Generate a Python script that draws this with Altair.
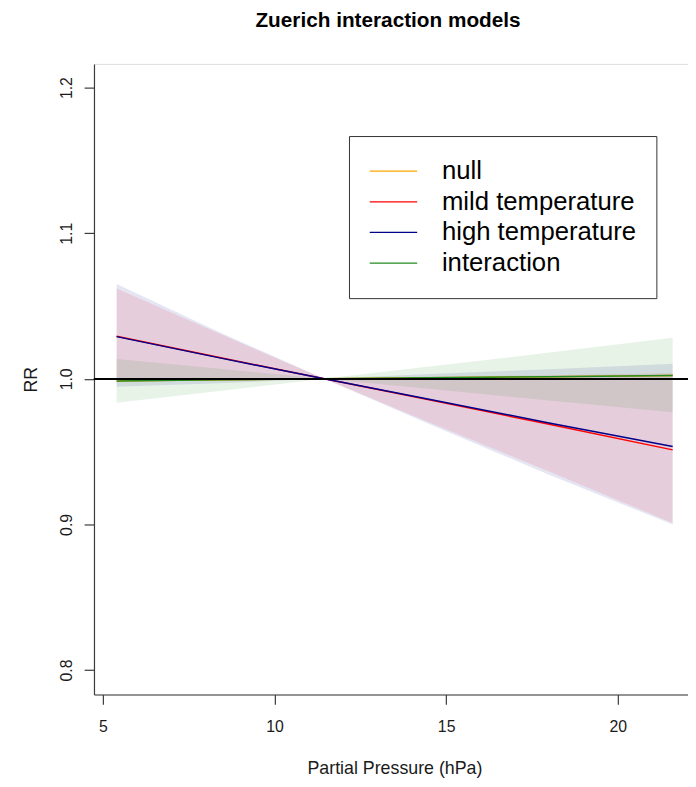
import altair as alt
import pandas as pd

# ---------------- data ----------------
models = ["null", "mild temperature", "high temperature", "interaction"]
colors = ["#FFA500", "#FF0000", "#00008B", "#228B22"]
pressure = [5.4, 8.4, 11.45, 14.5, 18.0, 21.6]

null_fit = [0.9985, 0.9993, 1.0000, 1.0007, 1.0015, 1.0023]
null_lo = [0.9980, 0.9990, 1.0000, 1.0004, 1.0010, 1.0016]
null_hi = [0.9990, 0.9996, 1.0000, 1.0010, 1.0020, 1.0030]

mild_fit = [1.0293, 1.0146, 1.0000, 0.9856, 0.9688, 0.9512]
mild_lo = [0.9985, 0.9986, 1.0000, 0.9701, 0.9363, 0.9010]
mild_hi = [1.0621, 1.0309, 1.0000, 1.0014, 1.0024, 1.0039]

high_fit = [1.0290, 1.0144, 1.0000, 0.9860, 0.9697, 0.9535]
high_lo = [0.9945, 0.9969, 1.0000, 0.9690, 0.9342, 0.8999]
high_hi = [1.0651, 1.0320, 1.0000, 1.0033, 1.0066, 1.0104]

inter_fit = [0.9985, 0.9993, 1.0000, 1.0007, 1.0015, 1.0023]
inter_lo = [0.9836, 0.9917, 1.0000, 0.9931, 0.9852, 0.9770]
inter_hi = [1.0136, 1.0069, 1.0000, 1.0084, 1.0180, 1.0282]

x_ticks = [5, 10, 15, 20]
y_ticks = [0.8, 0.9, 1.0, 1.1, 1.2]

fits = [null_fit, mild_fit, high_fit, inter_fit]
los = [null_lo, mild_lo, high_lo, inter_lo]
his = [null_hi, mild_hi, high_hi, inter_hi]

rows = []
for m, f_, l_, h_ in zip(models, fits, los, his):
    for x, f, l, h in zip(pressure, f_, l_, h_):
        rows.append({"model": m, "band": m, "x": x, "fit": f, "lo": l, "hi": h})
df = pd.DataFrame(rows)

FONT = "Liberation Sans"
AX = "#3a3a3a"

x_scale = alt.Scale(domain=[4.741, 22.046], nice=False, zero=False)
y_scale = alt.Scale(domain=[0.7832, 1.2163], nice=False, zero=False)

x_axis = alt.Axis(
    values=x_ticks, format="d", title="Partial Pressure (hPa)", grid=False,
    domainColor=AX, domainWidth=1.2, tickColor=AX, tickWidth=1.2, tickSize=10,
    labelFont=FONT, labelFontSize=16, labelColor="#1a1a1a", labelPadding=14,
    labelBaseline="top", labelAlign="center", labelFlush=False, labelOverlap=False,
    titleFont=FONT, titleFontSize=18, titleFontWeight="normal", titleColor="#1a1a1a",
    titleX=304, titleY=80, titleAlign="center", titleBaseline="alphabetic",
)
y_axis = alt.Axis(
    values=y_ticks, format=".1f", title="RR", grid=False,
    domainColor=AX, domainWidth=1.2, tickColor=AX, tickWidth=1.2, tickSize=10,
    labelFont=FONT, labelFontSize=16, labelColor="#1a1a1a", labelPadding=13,
    labelAngle=270, labelAlign="center", labelBaseline="alphabetic",
    labelFlush=False, labelOverlap=False,
    titleFont=FONT, titleFontSize=18, titleFontWeight="normal", titleColor="#1a1a1a",
    titleAngle=270, titleX=-58, titleY=319, titleAlign="center", titleBaseline="alphabetic",
)

base = alt.Chart(df)

bands = base.mark_area(fillOpacity=0.1).encode(
    x=alt.X("x:Q", scale=x_scale, axis=x_axis),
    y=alt.Y("lo:Q", scale=y_scale, axis=y_axis),
    y2="hi:Q",
    fill=alt.Fill("band:N", scale=alt.Scale(domain=models, range=colors), legend=None),
)

lines = base.mark_line(strokeWidth=1.5).encode(
    x=alt.X("x:Q", scale=x_scale, axis=x_axis),
    y=alt.Y("fit:Q", scale=y_scale, axis=y_axis),
    color=alt.Color(
        "model:N",
        scale=alt.Scale(domain=models, range=colors),
        legend=alt.Legend(
            orient="none", legendX=258, legendY=73, title=None,
            symbolType="stroke", symbolSize=2304, symbolStrokeWidth=1.3,
            clipHeight=31, rowPadding=0, labelFont=FONT, labelFontSize=26,
            labelColor="black", labelOffset=24, padding=20, labelLimit=400,
            strokeColor="#333333", fillColor="white", direction="vertical",
        ),
    ),
)

ref = base.mark_rule(color="black", strokeWidth=1).encode(
    y=alt.datum(1.0)
)

chart = alt.layer(bands, lines, ref).resolve_scale(fill="independent", color="independent").properties(
    width=601,
    height=638,
    autosize=alt.AutoSizeParams(type="none"),
    padding={"left": 87, "top": 52, "right": 0, "bottom": 85},
    title=alt.Title(
        "Zuerich interaction models", font=FONT, fontSize=21, fontWeight="bold",
        color="black", anchor="middle", frame="group", baseline="alphabetic",
        offset=16, dx=-3,
    ),
).configure_view(stroke=None).configure(font=FONT, background="white")

chart.save("out.html", embed_options={"renderer": "svg", "actions": False})
